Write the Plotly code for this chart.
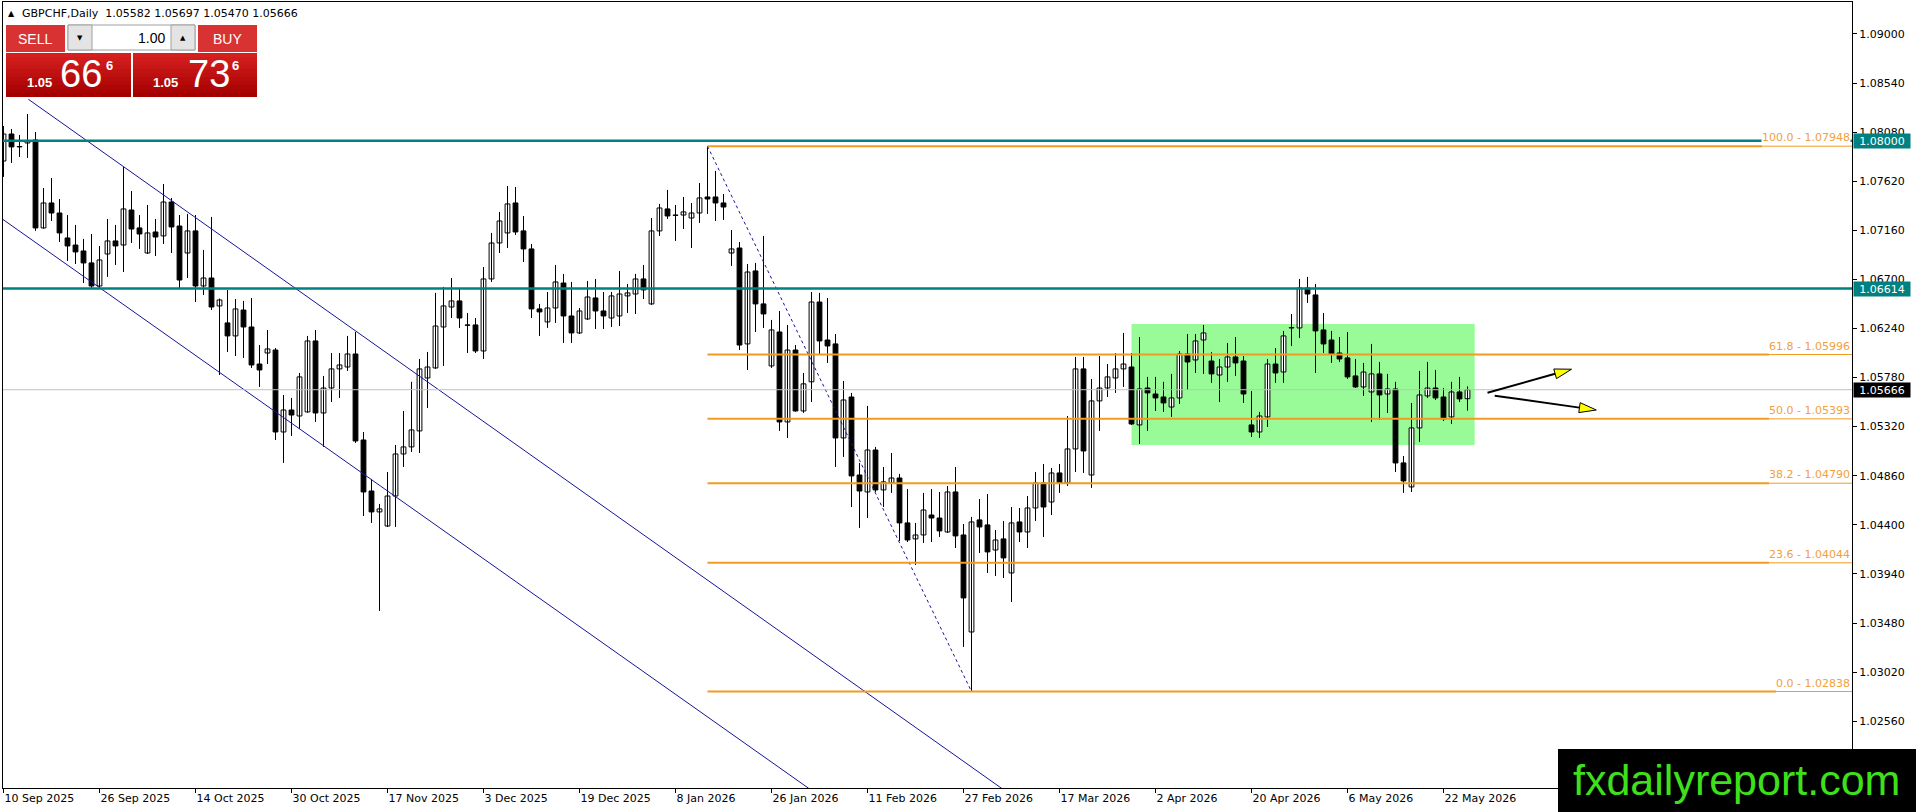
import math
import pandas as pd
import plotly.graph_objects as go

# === GBPCHF daily bars, 10 Sep 2025 - 27 May 2026 ===
opens = [
    1.07809, 1.08062, 1.07941, 1.07978, 1.08006, 1.07182, 1.07416, 1.07322, 1.07088, 1.07022,
    1.06966, 1.06854, 1.06638, 1.06938, 1.07060, 1.07022, 1.07350, 1.07182, 1.06947, 1.07144,
    1.07107, 1.07425, 1.07200, 1.06947, 1.07154, 1.06638, 1.06713, 1.06451, 1.06292, 1.06170,
    1.06413, 1.06254, 1.05907, 1.06010, 1.06038, 1.05270, 1.05476, 1.05420, 1.05458, 1.06123,
    1.05448, 1.05682, 1.05861, 1.05879, 1.06001, 1.05195, 1.04717, 1.04521, 1.04389, 1.04670,
    1.05064, 1.05130, 1.05280, 1.05776, 1.05870, 1.06254, 1.06441, 1.06498, 1.06273, 1.06273,
    1.06029, 1.06704, 1.07041, 1.07135, 1.07416, 1.07154, 1.06985, 1.06423, 1.06301, 1.06432,
    1.06666, 1.06357, 1.06198, 1.06329, 1.06526, 1.06404, 1.06338, 1.06357, 1.06545, 1.06563,
    1.06704, 1.06470, 1.07154, 1.07360, 1.07303, 1.07303, 1.07275, 1.07322, 1.07472, 1.07472,
    1.07416, 1.06947, 1.06994, 1.06095, 1.06779, 1.06470, 1.05889, 1.06207, 1.05364, 1.06038,
    1.05467, 1.05740, 1.06488, 1.06132, 1.06095, 1.05214, 1.05598, 1.04867, 1.04708, 1.05101,
    1.04727, 1.04792, 1.04839, 1.04418, 1.04268, 1.04305, 1.04492, 1.04464, 1.04333, 1.04708,
    1.04305, 1.03396, 1.04446, 1.04399, 1.04164, 1.04268, 1.03949, 1.04427, 1.04333, 1.04558,
    1.04792, 1.04614, 1.04886, 1.04792, 1.05111, 1.05861, 1.04867, 1.05561, 1.05682, 1.05776,
    1.05861, 1.05879, 1.05336, 1.05682, 1.05626, 1.05598, 1.05504, 1.05589, 1.06001, 1.05945,
    1.06132, 1.05935, 1.05804, 1.05879, 1.05973, 1.05935, 1.05336, 1.05270, 1.05411, 1.05907,
    1.05832, 1.06245, 1.06245, 1.06619, 1.06554, 1.06226, 1.06132, 1.06010, 1.05964, 1.05795,
    1.05692, 1.05645, 1.05814, 1.05626, 1.05673, 1.04980, 1.04755, 1.05308, 1.05608, 1.05682,
    1.05598, 1.05411, 1.05645, 1.05582,
]
highs = [
    1.08137, 1.08109, 1.08053, 1.08250, 1.08081, 1.07556, 1.07650, 1.07453, 1.07303, 1.07210,
    1.07079, 1.07125, 1.07013, 1.07266, 1.07210, 1.07753, 1.07528, 1.07303, 1.07397, 1.07266,
    1.07594, 1.07463, 1.07303, 1.07313, 1.07303, 1.06976, 1.07285, 1.06520, 1.06601, 1.06516,
    1.06498, 1.06526, 1.06085, 1.06226, 1.06057, 1.05617, 1.05589, 1.05823, 1.06170, 1.06226,
    1.05795, 1.06010, 1.06010, 1.06170, 1.06207, 1.05270, 1.04830, 1.04596, 1.04895, 1.05148,
    1.05467, 1.05740, 1.05954, 1.06020, 1.06573, 1.06629, 1.06713, 1.06619, 1.06385, 1.06338,
    1.06816, 1.07135, 1.07332, 1.07575, 1.07566, 1.07294, 1.07032, 1.06470, 1.06582, 1.06835,
    1.06751, 1.06676, 1.06432, 1.06685, 1.06704, 1.06582, 1.06582, 1.06779, 1.06657, 1.06751,
    1.06835, 1.07275, 1.07407, 1.07538, 1.07397, 1.07472, 1.07416, 1.07603, 1.07948, 1.07716,
    1.07500, 1.07163, 1.07050, 1.06844, 1.06854, 1.07107, 1.06320, 1.06404, 1.06273, 1.06085,
    1.05823, 1.06582, 1.06573, 1.06526, 1.06188, 1.05748, 1.05636, 1.04980, 1.05514, 1.05130,
    1.04942, 1.05073, 1.04877, 1.04736, 1.04418, 1.04699, 1.04736, 1.04708, 1.04764, 1.04942,
    1.04408, 1.04474, 1.04642, 1.04689, 1.04352, 1.04436, 1.04567, 1.04558, 1.04670, 1.04895,
    1.04970, 1.04933, 1.04970, 1.05420, 1.05973, 1.05973, 1.05767, 1.05982, 1.05907, 1.06010,
    1.06198, 1.06010, 1.06160, 1.05786, 1.05786, 1.05740, 1.05814, 1.06029, 1.06188, 1.06188,
    1.06273, 1.06020, 1.05954, 1.06104, 1.06160, 1.05982, 1.05654, 1.05458, 1.05954, 1.06057,
    1.06217, 1.06376, 1.06704, 1.06723, 1.06657, 1.06385, 1.06217, 1.06160, 1.06207, 1.05954,
    1.05917, 1.06095, 1.05926, 1.05814, 1.05740, 1.05045, 1.05542, 1.05842, 1.05926, 1.05851,
    1.05682, 1.05740, 1.05786, 1.05697,
]
lows = [
    1.07660, 1.07791, 1.07847, 1.07838, 1.07154, 1.07175, 1.07247, 1.07050, 1.06872, 1.06844,
    1.06666, 1.06610, 1.06629, 1.06723, 1.06835, 1.06769, 1.07041, 1.06985, 1.06938, 1.06919,
    1.07032, 1.06947, 1.06610, 1.06713, 1.06488, 1.06554, 1.06413, 1.05804, 1.06020, 1.05982,
    1.05964, 1.05870, 1.05692, 1.05907, 1.05195, 1.04980, 1.05233, 1.05298, 1.05450, 1.05364,
    1.05130, 1.05551, 1.05589, 1.05842, 1.05167, 1.04483, 1.04418, 1.03593, 1.04380, 1.04380,
    1.04942, 1.05083, 1.05073, 1.05495, 1.05861, 1.05889, 1.06338, 1.06245, 1.06010, 1.06010,
    1.05954, 1.06676, 1.06947, 1.06994, 1.07116, 1.06863, 1.06338, 1.06170, 1.06245, 1.06292,
    1.06104, 1.06104, 1.06188, 1.06320, 1.06235, 1.06235, 1.06254, 1.06263, 1.06385, 1.06376,
    1.06516, 1.06460, 1.07107, 1.07266, 1.07060, 1.07172, 1.06994, 1.07229, 1.07313, 1.07247,
    1.07257, 1.06826, 1.06038, 1.05851, 1.06207, 1.06245, 1.05870, 1.05280, 1.05214, 1.05460,
    1.05448, 1.05551, 1.06001, 1.05917, 1.04942, 1.05036, 1.04567, 1.04371, 1.04464, 1.04708,
    1.04567, 1.04699, 1.04249, 1.04239, 1.04024, 1.04230, 1.04239, 1.04286, 1.04325, 1.04183,
    1.03256, 1.02838, 1.04136, 1.03949, 1.03921, 1.03902, 1.03677, 1.04239, 1.04183, 1.04436,
    1.04286, 1.04492, 1.04699, 1.04764, 1.04895, 1.04886, 1.04746, 1.05280, 1.05598, 1.05636,
    1.05692, 1.05336, 1.05158, 1.05280, 1.05467, 1.05458, 1.05411, 1.05532, 1.05664, 1.05823,
    1.05814, 1.05730, 1.05551, 1.05740, 1.05795, 1.05542, 1.05223, 1.05214, 1.05317, 1.05730,
    1.05730, 1.06076, 1.06151, 1.06479, 1.05823, 1.06010, 1.05917, 1.05926, 1.05767, 1.05682,
    1.05608, 1.05364, 1.05383, 1.05448, 1.04895, 1.04699, 1.04708, 1.05177, 1.05589, 1.05570,
    1.05373, 1.05345, 1.05551, 1.05470,
]
closes = [
    1.08062, 1.07941, 1.07945, 1.07997, 1.07182, 1.07416, 1.07322, 1.07135, 1.07013, 1.06957,
    1.06854, 1.06638, 1.06882, 1.07060, 1.07013, 1.07360, 1.07172, 1.07125, 1.07135, 1.07097,
    1.07425, 1.07191, 1.06694, 1.07154, 1.06638, 1.06713, 1.06441, 1.06507, 1.06170, 1.06423,
    1.06254, 1.05898, 1.05851, 1.06048, 1.05270, 1.05476, 1.05429, 1.05786, 1.06123, 1.05448,
    1.05682, 1.05861, 1.05898, 1.06001, 1.05186, 1.04708, 1.04521, 1.04549, 1.04670, 1.05064,
    1.05130, 1.05289, 1.05861, 1.05879, 1.06263, 1.06451, 1.06498, 1.06338, 1.06270, 1.06029,
    1.06704, 1.07041, 1.07247, 1.07407, 1.07144, 1.06985, 1.06423, 1.06395, 1.06432, 1.06676,
    1.06357, 1.06198, 1.06404, 1.06535, 1.06404, 1.06357, 1.06545, 1.06563, 1.06573, 1.06704,
    1.06601, 1.07154, 1.07369, 1.07294, 1.07300, 1.07332, 1.07322, 1.07463, 1.07453, 1.07416,
    1.07378, 1.06985, 1.06085, 1.06769, 1.06470, 1.06376, 1.06226, 1.05364, 1.06038, 1.05467,
    1.05721, 1.06488, 1.06123, 1.06076, 1.05214, 1.05570, 1.04858, 1.04717, 1.05101, 1.04727,
    1.04802, 1.04839, 1.04418, 1.04258, 1.04305, 1.04539, 1.04464, 1.04343, 1.04708, 1.04296,
    1.03715, 1.04427, 1.04380, 1.04146, 1.04258, 1.04090, 1.04418, 1.04333, 1.04558, 1.04792,
    1.04567, 1.04886, 1.04792, 1.05111, 1.05861, 1.05092, 1.05561, 1.05682, 1.05786, 1.05861,
    1.05907, 1.05345, 1.05673, 1.05636, 1.05589, 1.05542, 1.05589, 1.06001, 1.05926, 1.06123,
    1.06198, 1.05814, 1.05879, 1.05973, 1.05917, 1.05626, 1.05270, 1.05420, 1.05907, 1.05823,
    1.06170, 1.06248, 1.06619, 1.06563, 1.06217, 1.06095, 1.06001, 1.05954, 1.05786, 1.05692,
    1.05832, 1.05814, 1.05617, 1.05673, 1.04980, 1.04811, 1.05308, 1.05617, 1.05682, 1.05589,
    1.05392, 1.05645, 1.05580, 1.05666,
]

# trading days shown by the terminal (Christmas and New Year have no bar)
holidays = ["2025-12-25", "2026-01-01"]
dates = [d for d in pd.bdate_range("2025-09-10", "2026-05-27")
         if d.strftime("%Y-%m-%d") not in holidays]
tick_idx = list(range(0, len(dates), 12))
tick_text = [f"{dates[i].day} {dates[i].strftime('%b %Y')}" for i in tick_idx]

y_ticks = [1.02560, 1.03020, 1.03480, 1.03940, 1.04400, 1.04860, 1.05320,
           1.05780, 1.06240, 1.06700, 1.07160, 1.07620, 1.08080, 1.08540, 1.09000]

# === Drawn objects ===
sr_levels = [1.08000, 1.06614]
last_price = 1.05666
fib_ratios = [100.0, 61.8, 50.0, 38.2, 23.6, 0.0]
fib_prices = [1.07948, 1.05996, 1.05393, 1.04790, 1.04044, 1.02838]
fib_high_bar, fib_low_bar = 88, 121
channel_upper_x, channel_upper_y = [3.1, 130.0], [1.08388, 1.01653]
channel_lower_x, channel_lower_y = [-0.1, 110.0], [1.07263, 1.01436]
zone_x, zone_y = [141.0, 183.9], [1.05148, 1.06282]
arrow_up = [(185.5, 1.05638), (196.0, 1.05858)]
arrow_down = [(186.4, 1.05610), (199.1, 1.05476)]

# === Geometry of the terminal window ===
W, H = 1916, 812
L_M, R_M, T_M, B_M = 3, 64, 2, 24
PX_BAR = 8.0
X0 = -0.0625
X1 = X0 + (W - L_M - R_M) / PX_BAR
Y_RANGE = [1.01934, 1.09299]
PX_PRICE = (H - T_M - B_M) / (Y_RANGE[1] - Y_RANGE[0])

TEAL = "#008080"
ORANGE = "#f39a21"
NAVY = "#15159a"
FONT = "DejaVu Sans"


def px(xp):
    return (xp - L_M) / (W - L_M - R_M)


def py(yp):
    return (H - B_M - yp) / (H - T_M - B_M)


def bar_at_px(xp):
    return (xp - L_M) / PX_BAR + X0


def text_w(s):
    return sum(7.0 if ch.isdigit() else 3.5 if ch in ". " else 4.0 for ch in s)


fig = go.Figure()

# --- candles: wicks then bodies ---
wx, wy = [], []
for i in range(len(opens)):
    wx += [i, i, None]
    wy += [lows[i], highs[i], None]
fig.add_trace(go.Scatter(x=wx, y=wy, mode="lines", line=dict(color="black", width=1),
                         hoverinfo="skip"))

fig.add_trace(go.Bar(
    x=list(range(len(opens))),
    base=[min(o, c) for o, c in zip(opens, closes)],
    y=[max(abs(c - o), 0.00001) for o, c in zip(opens, closes)],
    width=0.6,
    marker=dict(color=["white" if c >= o else "black" for o, c in zip(opens, closes)],
                line=dict(color="black", width=1)),
    hoverinfo="skip",
))

# --- channel ---
for cx, cy in [(channel_upper_x, channel_upper_y), (channel_lower_x, channel_lower_y)]:
    fig.add_trace(go.Scatter(x=cx, y=cy, mode="lines", line=dict(color=NAVY, width=1),
                             hoverinfo="skip"))

# --- fibo trend line (dotted) ---
fig.add_trace(go.Scatter(x=[fib_high_bar, fib_low_bar], y=[fib_prices[0], fib_prices[-1]],
                         mode="lines", line=dict(color=NAVY, width=1, dash="dot"),
                         hoverinfo="skip"))

# --- last price line ---
fig.add_trace(go.Scatter(x=[X0 - 1, X1 + 1], y=[last_price, last_price], mode="lines",
                         line=dict(color="#c0c0c0", width=1), hoverinfo="skip"))

# --- support / resistance ---
for lvl in sr_levels:
    fig.add_trace(go.Scatter(x=[X0 - 1, X1 + 1], y=[lvl, lvl], mode="lines",
                             line=dict(color=TEAL, width=2.5), hoverinfo="skip"))

# --- fibo levels ---
annotations = []
for ratio, price in zip(fib_ratios, fib_prices):
    label = f"{ratio:.1f} - {price:.5f}"
    x_cut = bar_at_px(W - R_M - 2 - text_w(label))
    fig.add_trace(go.Scatter(x=[fib_high_bar, x_cut], y=[price, price], mode="lines",
                             line=dict(color=ORANGE, width=2), hoverinfo="skip"))
    fig.add_trace(go.Scatter(x=[x_cut, X1 + 1], y=[price, price], mode="lines",
                             line=dict(color=ORANGE, width=1), hoverinfo="skip"))
    annotations.append(dict(x=1, xref="paper", xanchor="right", xshift=-1,
                            y=price, yref="y", yanchor="bottom", yshift=1,
                            text=label, showarrow=False, borderpad=0, bgcolor="white",
                            font=dict(family=FONT, size=11, color="#f0a040")))

# --- arrows ---
for (x0, y0), (x1, y1) in [arrow_up, arrow_down]:
    dx, dy = (x1 - x0) * PX_BAR, (y1 - y0) * PX_PRICE
    n = math.hypot(dx, dy)
    ux, uy = dx / n, dy / n
    head_len, half_w = 17.0, 5.0
    bx, by = x1 - head_len * ux / PX_BAR, y1 - head_len * uy / PX_PRICE
    fig.add_trace(go.Scatter(x=[x0, bx], y=[y0, by], mode="lines",
                             line=dict(color="black", width=2), hoverinfo="skip"))
    hx = [x1, bx - half_w * uy / PX_BAR, bx + half_w * uy / PX_BAR, x1]
    hy = [y1, by + half_w * ux / PX_PRICE, by - half_w * ux / PX_PRICE, y1]
    fig.add_trace(go.Scatter(x=hx, y=hy, mode="lines", fill="toself", fillcolor="#ffff00",
                             line=dict(color="black", width=1), hoverinfo="skip"))

# --- shapes ---
shapes = [dict(type="rect", xref="x", yref="y", x0=zone_x[0], x1=zone_x[1],
               y0=zone_y[0], y1=zone_y[1], fillcolor="#98fb98", line=dict(width=0),
               layer="below")]


def box(x0, y0, x1, y1, fill, line=None):
    shapes.append(dict(type="rect", xref="paper", yref="paper", x0=px(x0), x1=px(x1),
                       y0=py(y1), y1=py(y0), fillcolor=fill,
                       line=dict(color=line or fill, width=1 if line else 0),
                       layer="above"))


def label(xp, yp, text, size, color="white", anchor="center", family="Liberation Sans"):
    annotations.append(dict(x=px(xp), y=py(yp), xref="paper", yref="paper",
                            xanchor=anchor, yanchor="middle", text=text, showarrow=False,
                            borderpad=0, font=dict(family=family, size=size, color=color)))


# one-click trading panel
box(6, 25, 65, 52, "#d83232")
box(198, 25, 257, 52, "#d83232")
for b in range(11):
    t = b / 10
    col = f"rgb({int(214 - 50 * t)},{int(32 - 32 * t)},{int(32 - 32 * t)})"
    box(6, 53 + 4 * b, 131, 57 + 4 * b, col)
    box(133, 53 + 4 * b, 257, 57 + 4 * b, col)
box(68, 25, 195, 50, "#ffffff", "#a0a0a0")
box(68, 25, 92, 50, "#e4e4e4", "#a0a0a0")
box(171, 25, 195, 50, "#e4e4e4", "#a0a0a0")
label(35, 39, "SELL", 14)
label(227, 39, "BUY", 14)
label(166, 38, "1.00", 14, color="black", anchor="right")
label(80, 38, "▼", 7, color="black", family=FONT)
label(183, 38, "▲", 7, color="black", family=FONT)
for x_small, x_big, x_sup, big in [(26, 59, 105, "66"), (152, 187, 231, "73")]:
    label(x_small, 82, "<b>1.05</b>", 13, anchor="left")
    label(x_big, 74, big, 38, anchor="left")
    label(x_sup, 66, "<b>6</b>", 13, anchor="left")

# chart title
label(7, 13, "▲", 8, color="black", anchor="left", family=FONT)
label(21, 13, "GBPCHF,Daily\u00a0\u00a01.05582 1.05697 1.05470 1.05666", 11,
      color="black", anchor="left", family=FONT)

# price tags on the axis
for lvl, bg in [(sr_levels[0], TEAL), (sr_levels[1], TEAL), (last_price, "black")]:
    annotations.append(dict(x=1, xref="paper", xanchor="left", xshift=1, y=lvl, yref="y",
                            yanchor="middle", text=f"{lvl:.5f}", showarrow=False,
                            bgcolor=bg, width=54, height=12, borderpad=1,
                            font=dict(family=FONT, size=11, color="white")))

# watermark
shapes.append(dict(type="rect", xref="paper", yref="paper", x0=px(1558), x1=px(1917),
                   y0=py(813), y1=py(749), fillcolor="black", line=dict(width=0),
                   layer="above"))
label(1736, 780, "fxdailyreport.com", 43, color="#3ee01c", family="Liberation Sans")

fig.update_layout(
    width=W, height=H,
    margin=dict(l=L_M, r=R_M, t=T_M, b=B_M),
    paper_bgcolor="white", plot_bgcolor="white",
    showlegend=False,
    font=dict(family=FONT, size=11, color="black"),
    shapes=shapes, annotations=annotations,
    xaxis=dict(range=[X0, X1], tickvals=tick_idx, ticktext=tick_text,
               ticks="outside", ticklen=4, tickcolor="black",
               ticklabelposition="outside right",
               showline=True, linecolor="black", linewidth=1, mirror=True,
               showgrid=False, zeroline=False, fixedrange=True),
    yaxis=dict(range=Y_RANGE, side="right", tickvals=y_ticks,
               ticktext=[f"{v:.5f}" for v in y_ticks],
               ticks="outside", ticklen=4, tickcolor="black",
               showline=True, linecolor="black", linewidth=1, mirror=True,
               showgrid=False, zeroline=False, fixedrange=True),
)

fig.write_html("out.html", config={"displayModeBar": False},
               post_script="document.body.style.margin='0';"
                           "document.body.style.overflow='hidden';")
